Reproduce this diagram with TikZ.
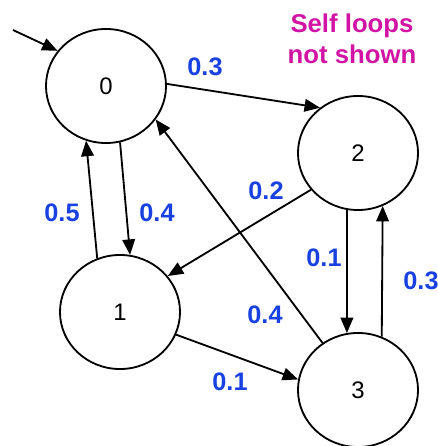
\documentclass[tikz,border=0pt]{standalone}
\usepackage{fontspec}
\setmainfont{Liberation Sans}
\usetikzlibrary{shapes.geometric,arrows.meta}
\definecolor{probblue}{RGB}{25,65,225}
\definecolor{notemagenta}{RGB}{210,20,165}
\begin{document}
\begin{tikzpicture}[x=0.025cm, y=-0.025cm, >={Triangle[length=11pt,width=9pt]}, line width=1.3pt,
    mstate/.style={draw, ellipse, minimum width=3cm, minimum height=2.85cm, inner sep=0pt, font=\fontsize{17}{20}\selectfont},
    prob/.style={text=probblue, font=\fontsize{18}{20}\selectfont\bfseries, inner sep=0pt}]
    \useasboundingbox (0,0) rectangle (438,446);

    % states
    \node [mstate] (s0) at (106,86) {0};
    \node [mstate] (s2) at (358,153) {2};
    \node [mstate] (s1) at (120,312) {1};
    \node [mstate] (s3) at (358,390) {3};
    \coordinate (start) at (13,30);

    \node [text=notemagenta, font=\fontsize{18.3}{22}\selectfont\bfseries, align=center, anchor=north, inner sep=0pt] (note) at (352,13) {Self loops\\not shown};

    % transitions
    \draw [->] (start) -- (s0.144);
    \draw [->] (s0.2) -- (s2.130);
    \draw [->] (s1.113) -- (s0.250);
    \draw [->] (s0.284) -- (s1.80);
    \draw [->] (s3.127) -- (s0.326);
    \draw [->] (s2.218) -- (s1.37);
    \draw [->] (s2.259) -- (s3.101);
    \draw [->] (s3.66) -- (s2.295);
    \draw [->] (s1.338) -- (s3.170);

    % probabilities
    \node [prob] (p02) at (205,67) {0.3};
    \node [prob] (p21) at (266,191) {0.2};
    \node [prob] (p10) at (62,213) {0.5};
    \node [prob] (p01) at (157,213) {0.4};
    \node [prob] (p23) at (324,258) {0.1};
    \node [prob] (p32) at (421,281) {0.3};
    \node [prob] (p30) at (265,315) {0.4};
    \node [prob] (p13) at (230,382) {0.1};
\end{tikzpicture}
\end{document}
